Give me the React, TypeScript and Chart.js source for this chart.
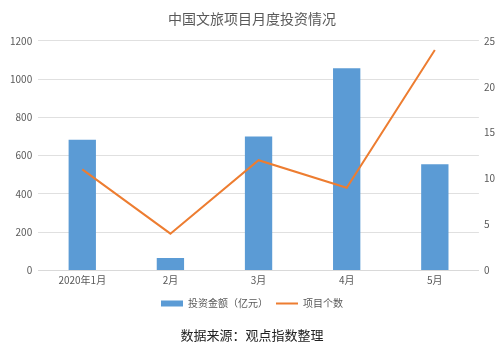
import React, { useEffect, useRef } from "react";
import { Chart, registerables } from "chart.js";

Chart.register(...registerables);

const categories = ["2020年1月", "2月", "3月", "4月", "5月"];
const investAmount = [683, 65, 700, 1057, 555];
const projectCount = [11, 4, 12, 9, 24];
const leftTicks = [0, 200, 400, 600, 800, 1000, 1200];
const rightTicks = [0, 5, 10, 15, 20, 25];

const titleText = "中国文旅项目月度投资情况";
const sourceText = "数据来源：观点指数整理";
const barLabel = "投资金额（亿元）";
const lineLabel = "项目个数";

export default function App() {
  const ref = useRef<HTMLCanvasElement | null>(null);

  useEffect(() => {
    document.body.style.margin = "0";
    const ctx = ref.current;
    if (!ctx) return;
    const font = "'Microsoft YaHei', 'Noto Sans CJK SC', sans-serif";
    const chart = new Chart(ctx, {
      data: {
        labels: categories,
        datasets: [
          {
            type: "line",
            label: lineLabel,
            data: projectCount,
            yAxisID: "y1",
            borderColor: "#ED7D31",
            backgroundColor: "#ED7D31",
            borderWidth: 2,
            pointRadius: 0,
            pointStyle: "line",
            tension: 0,
            order: 1,
          },
          {
            type: "bar",
            label: barLabel,
            data: investAmount,
            yAxisID: "y",
            backgroundColor: "#5B9BD5",
            pointStyle: "rect",
            barPercentage: 0.31,
            categoryPercentage: 1,
            order: 2,
          },
        ],
      },
      options: {
        responsive: false,
        animation: false,
        layout: { padding: { left: 4, right: 0, top: 0, bottom: 0 } },
        font: { family: font },
        plugins: {
          title: {
            display: true,
            text: titleText,
            color: "#595959",
            font: { size: 14, family: font, weight: "normal" },
            padding: { top: 10, bottom: 14 },
          },
          subtitle: {
            display: true,
            text: sourceText,
            position: "bottom",
            color: "#222",
            font: { size: 13, family: font, weight: "normal" },
            padding: { top: 9, bottom: 8 },
          },
          legend: {
            position: "bottom",
            reverse: true,
            labels: {
              usePointStyle: true,
              pointStyleWidth: 22,
              boxHeight: 6,
              color: "#595959",
              font: { size: 10, family: font },
              padding: 8,
            },
          },
          tooltip: { enabled: false },
        },
        scales: {
          x: {
            grid: { display: false, drawTicks: false },
            border: { color: "#D9D9D9" },
            ticks: {
              color: "#595959",
              font: { size: 10, family: font },
              maxRotation: 0,
              padding: 4,
            },
          },
          y: {
            position: "left",
            min: 0,
            max: 1200,
            afterBuildTicks: (axis: any) => {
              axis.ticks = leftTicks.map((v) => ({ value: v }));
            },
            grid: { color: "#E0E0E0", drawTicks: false },
            border: { display: false },
            ticks: {
              color: "#595959",
              font: { size: 10, family: font },
              padding: 6,
              callback: (v: any) => String(v),
            },
          },
          y1: {
            position: "right",
            min: 0,
            max: 25,
            afterBuildTicks: (axis: any) => {
              axis.ticks = rightTicks.map((v) => ({ value: v }));
            },
            grid: { display: false, drawTicks: false },
            border: { display: false },
            ticks: {
              color: "#595959",
              font: { size: 10, family: font },
              padding: 5,
              callback: (v: any) => String(v),
            },
          },
        },
      },
    } as any);
    return () => chart.destroy();
  }, []);

  return (
    <div style={{ position: "absolute", left: 0, top: 0, width: 500, height: 351, background: "#fff" }}>
      <canvas ref={ref} width={500} height={351} />
    </div>
  );
}
